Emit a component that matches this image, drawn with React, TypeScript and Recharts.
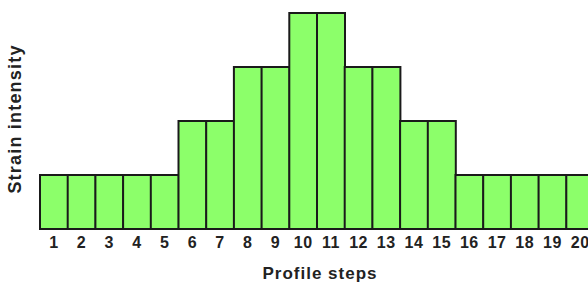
import React from 'react';
import { BarChart, Bar, XAxis, YAxis } from 'recharts';

// profile steps along the x axis
const steps = ['1', '2', '3', '4', '5', '6', '7', '8', '9', '10', '11', '12', '13', '14', '15', '16', '17', '18', '19', '20'];
// strain intensity for each step
const strain = [1, 1, 1, 1, 1, 2, 2, 3, 3, 4, 4, 3, 3, 2, 2, 1, 1, 1, 1, 1];

const data = steps.map((s, i) => ({ step: s, strain: strain[i] }));

const font = 'Liberation Sans, Arial, Helvetica, sans-serif';

export default function App() {
  return (
    <div style={{ position: 'absolute', left: 0, top: 0, width: 588, height: 283, overflow: 'hidden', background: '#fff' }}>
      <BarChart
        width={600}
        height={283}
        data={data}
        margin={{ top: 13, right: 6, bottom: 0, left: 0 }}
        barCategoryGap={0}
      >
        <XAxis
          dataKey="step"
          axisLine={false}
          tickLine={false}
          interval={0}
          height={54}
          tick={{ fill: '#222', fontSize: 16, fontWeight: 'bold', fontFamily: font, letterSpacing: 0.5 }}
          label={{
            value: 'Profile steps',
            position: 'insideBottom',
            offset: 4,
            dx: 3,
            fill: '#222',
            fontSize: 17,
            fontWeight: 'bold',
            fontFamily: font,
            letterSpacing: 1,
          }}
        />
        <YAxis
          width={40}
          domain={[0, 4]}
          axisLine={false}
          tickLine={false}
          tick={false}
          label={{
            value: 'Strain intensity',
            angle: -90,
            position: 'insideLeft',
            offset: 15,
            dy: -2,
            style: { textAnchor: 'middle' },
            fill: '#222',
            fontSize: 18,
            fontWeight: 'bold',
            fontFamily: font,
            letterSpacing: 1.2,
          }}
        />
        <Bar dataKey="strain" fill="#8cff6a" stroke="#1a1a1a" strokeWidth={2} isAnimationActive={false} />
      </BarChart>
    </div>
  );
}
